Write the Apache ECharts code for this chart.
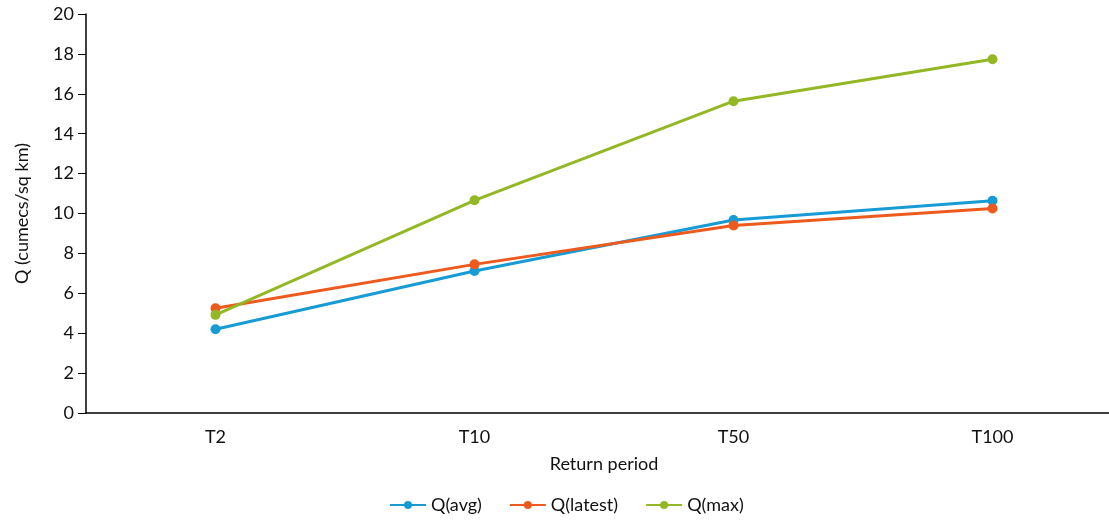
<!DOCTYPE html>
<html><head><meta charset="utf-8">
<script src="https://cdn.jsdelivr.net/npm/echarts@6/dist/echarts.min.js"></script>
<style>html,body{margin:0;padding:0;background:#fff}#c{width:1109px;height:524px}</style>
</head><body><div id="c"></div>
<script>
const categories = ['T2','T10','T50','T100'];
const qAvg = [4.2, 7.12, 9.67, 10.64];
const qLatest = [5.25, 7.45, 9.4, 10.25];
const qMax = [4.92, 10.66, 15.63, 17.73];
const yTicks = [0,2,4,6,8,10,12,14,16,18,20];

const font = 'Lato, "Noto Sans", sans-serif';
const chart = echarts.init(document.getElementById('c'));
function mk(name, data, color){
  return {name, type:'line', data, color, symbol:'circle', symbolSize:10,
    lineStyle:{width:3,color}, itemStyle:{color}, animation:false};
}
chart.setOption({
  animation:false,
  grid:{left:86, top:14, width:1036, bottom:111, outerBoundsMode:'none', containLabel:false},
  legend:{bottom:5, left:384, itemWidth:36, itemHeight:10, itemGap:27,
    textStyle:{fontFamily:font, fontSize:18, color:'#111'},
    data:['Q(avg)','Q(latest)','Q(max)']},
  xAxis:{type:'category', data:categories, boundaryGap:true,
    axisLine:{lineStyle:{color:'#000',width:1.5}}, axisTick:{show:false},
    axisLabel:{fontFamily:font, fontSize:18, color:'#111', margin:15},
    name:'Return period', nameLocation:'middle', nameGap:42,
    nameTextStyle:{fontFamily:font, fontSize:18, color:'#111'}},
  yAxis:{type:'value', min:0, max:20, interval:2,
    axisLine:{show:true, lineStyle:{color:'#000',width:1.5}},
    axisTick:{show:true, length:8, lineStyle:{color:'#000'}},
    splitLine:{show:false},
    axisLabel:{fontFamily:font, fontSize:18, color:'#111', margin:12,
      formatter:v=>yTicks.includes(v)?String(v):''},
    name:'Q (cumecs/sq km)', nameLocation:'middle', nameGap:55,
    nameTextStyle:{fontFamily:font, fontSize:18, color:'#111'}},
  series:[mk('Q(avg)',qAvg,'#169bd5'), mk('Q(latest)',qLatest,'#ee5a1d'), mk('Q(max)',qMax,'#93b725')]
});
</script></body></html>
